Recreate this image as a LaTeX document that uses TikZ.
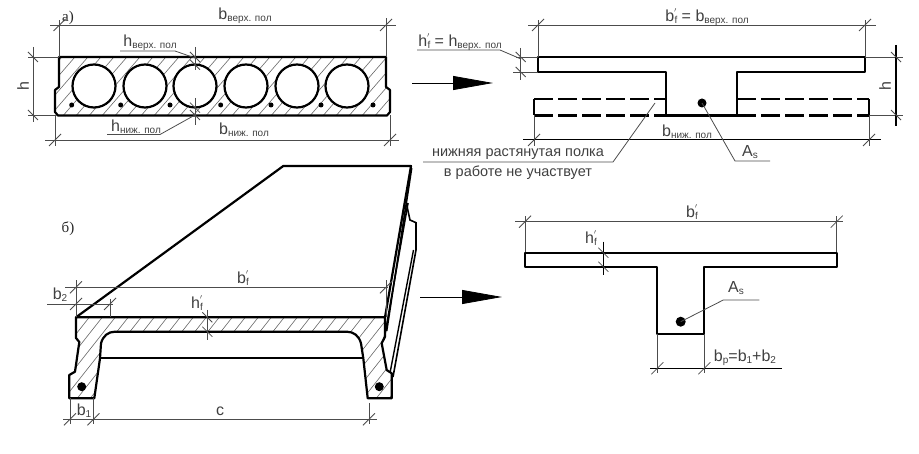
\documentclass[tikz,border=0pt]{standalone}
\usepackage{fontspec}
\setmainfont{Liberation Serif}
\setsansfont{Liberation Sans}
\usetikzlibrary{arrows.meta}
\newcommand{\lblsub}[1]{\raisebox{-2pt}{\fontsize{10}{10}\selectfont #1}}
\newcommand{\lblprime}[2]{#1\raisebox{6pt}{\fontsize{10}{10}\selectfont$'$}\hspace{-2.5pt}\lblsub{#2}}
\tikzset{
  contour/.style={line width=2.2pt,line join=round},
  dimline/.style={line width=0.8pt,black!70},
  hatchline/.style={line width=0.6pt,black!60},
  dimtxt/.style={font=\sffamily\fontsize{16}{16}\selectfont,inner sep=0pt,text=black!75},
  notetxt/.style={font=\sffamily\fontsize{14.5}{14.5}\selectfont,inner sep=0pt,text=black!75},
  panelmark/.style={font=\rmfamily\fontsize{15}{15}\selectfont,inner sep=0pt,text=black!85},
  flowarrow/.style={line width=0.8pt,-{Triangle[length=40pt,width=14pt]}}
}
\def\hollowpath{(59,57) -- (59,87) -- (55,90) -- (55,112) -- (58,115.5) -- (387,115.5) -- (390,112) -- (390,90) -- (386,87) -- (386,57) -- cycle}
\def\ribbedpath{(76,317.3) -- (76,338) -- (79.3,342) -- (75,371.7) -- (69.3,375) -- (69.3,398.3) -- (94.3,398.3) -- (100,358.3) -- (101,343.3) .. controls (103,336) and (108,331.7) .. (115,331.7) -- (346.7,331.7) .. controls (354,331.7) and (359,336) .. (361,343.3) -- (363.3,358.3) -- (367.7,398.3) -- (391.7,398.3) -- (391.7,373.3) -- (386.7,370) -- (381.7,343.3) -- (385,336.7) -- (385,317.3) -- cycle}
\begin{document}
\begin{tikzpicture}[x=1pt,y=-1pt]
\useasboundingbox (0,0) rectangle (919,454);
% hollow slab
\begin{scope}
\clip \hollowpath;
\foreach \x in {-10,3,...,420} \draw[hatchline] (\x,125) -- (\x+65,50);
\end{scope}
\draw[contour] \hollowpath;
\foreach \x in {94,145,195,246,297,347} \draw[contour,fill=white] (\x,86) circle[radius=21.5];
\foreach \x in {71.7,120.7,170,220.7,271,321,373} \fill (\x,105) circle[radius=2.5];
\draw[dimline] (59.5,57) -- (59.5,20) (386,57) -- (386,18) (50,25) -- (396,25);
\draw[dimline] (55,115) -- (55,146) (390,115) -- (390,146) (45,140) -- (399,140);
\draw[dimline] (59,57) -- (28,57) (57,115) -- (28,115) (33,47) -- (33,122);
\draw[dimline] (195,47) -- (195,70) (195,98) -- (195,125);
\draw[dimline] (120,51) -- (175,51) -- (195,58) (107,134.5) -- (160,134.5) -- (195,115);
\node[panelmark] (marka) at (68,18) {а)};
\node[dimtxt] (bupper) at (245,16) {b\lblsub{верх. пол}};
\node[dimtxt] (blower) at (244,130) {b\lblsub{ниж. пол}};
\node[dimtxt] (hupper) at (150,43) {h\lblsub{верх. пол}};
\node[dimtxt] (hlower) at (136,127) {h\lblsub{ниж. пол}};
\node[dimtxt,rotate=90] (hleft) at (23,86) {h};
% reduced section, upper right
\draw[contour] (666,115.5) -- (666,72) -- (538,72) -- (538,57) -- (865,57) -- (865,72) -- (737,72) -- (737,115.5) -- cycle;
\draw[contour,dash pattern=on 19pt off 5pt] (534,99) -- (666,99) (534,115.5) -- (666,115.5) (737,99) -- (869,99) (737,115.5) -- (869,115.5);
\draw[contour] (534,99) -- (534,115.5) (869,99) -- (869,115.5);
\fill (702,103) circle[radius=4.5];
\draw[dimline] (538,57) -- (538,20) (865,57) -- (865,20) (528,25) -- (876,25);
\draw[dimline] (865,57) -- (903,57) (869,115) -- (903,115);
\draw[line width=1.2pt] (896,45) -- (896,126);
\draw[dimline] (538,57) -- (516,57) (538,72) -- (513,72) (520.7,48) -- (520.7,80);
\draw[dimline] (417,50) -- (500,50) -- (521,59);
\draw[dimline] (534,115) -- (534,146) (869,115) -- (869,146);
\draw[line width=1pt] (523,140) -- (881,140);
\draw[dimline] (655,103) -- (613,162) -- (423,162);
\draw[dimline] (702,103) -- (735,161) -- (770,161);
\node[dimtxt] (bflange) at (707,17) {\lblprime{b}{f} = b\lblsub{верх. пол}};
\node[dimtxt] (hflange) at (460,42) {\lblprime{h}{f} = h\lblsub{верх. пол}};
\node[dimtxt] (bbottom) at (687,132) {b\lblsub{ниж. пол}};
\node[dimtxt,rotate=90] (hright) at (885,86) {h};
\node[notetxt] (noteup) at (518,154) {нижняя растянутая полка};
\node[notetxt] (notedown) at (518,173) {в работе не участвует};
\node[dimtxt] (asup) at (750,152) {A\lblsub{s}};
% flow arrows
\coordinate (arrowastart) at (412,83);
\coordinate (arrowaend) at (493,83);
\coordinate (arrowbstart) at (420,297);
\coordinate (arrowbend) at (502,297);
\draw[flowarrow] (arrowastart) -- (arrowaend);
\draw[flowarrow] (arrowbstart) -- (arrowbend);
% ribbed slab in perspective
\begin{scope}
\clip \ribbedpath;
\foreach \x in {20,33,...,440} \draw[hatchline] (\x,405) -- (\x+75,310);
\end{scope}
\draw[contour] \ribbedpath;
\draw[contour] (100,358.3) -- (363.3,358.3);
\draw[contour] (76,317.3) -- (283.3,166) -- (411,166) -- (385,317.3);
\draw[line width=1.6pt] (411.7,168) -- (386.7,331);
\draw[line width=1.6pt] (408,203) -- (384,340);
\draw[line width=1.6pt] (406.7,205) -- (410,220) -- (416,222.7) -- (416,250) -- (393,377);
\draw[line width=1.4pt] (413.5,250) -- (390,373);
\fill (81.7,386.7) circle[radius=4.5] (379.3,386.7) circle[radius=4.5];
\draw[dimline] (76,317) -- (76,280) (386,317) -- (386,280) (65,287.3) -- (388,287.3);
\draw[dimline] (47,304) -- (113,304) (110,317) -- (110,299);
\draw[dimline] (207.3,310) -- (207.3,340);
\draw[dimline] (70,398) -- (70,424) (93.5,398) -- (93.5,424) (369,403) -- (369,424) (63,419.3) -- (377,419.3);
\node[panelmark] (markb) at (68,229) {б)};
\node[dimtxt] (bwide) at (243,278) {\lblprime{b}{f}};
\node[dimtxt] (bsmall) at (60,295) {b\lblsub{2}};
\node[dimtxt] (hthin) at (197,303) {\lblprime{h}{f}};
\node[dimtxt] (bfoot) at (84,411) {b\lblsub{1}};
\node[dimtxt] (cspan) at (220,411) {c};
% design t section, lower right
\draw[contour] (657.3,266.7) -- (525,266.7) -- (525,252.7) -- (836.7,252.7) -- (836.7,266.7) -- (704.3,266.7) -- (704.3,334) -- (657.3,334) -- cycle;
\fill (680.7,321.7) circle[radius=5];
\draw[dimline] (525,252) -- (525,216) (836.7,252) -- (836.7,216) (515,221.7) -- (843,221.7);
\draw[line width=1.2pt] (603.3,241.7) -- (603.3,275);
\draw[dimline] (680.7,321.7) -- (723.3,300) -- (759.3,300);
\draw[dimline] (657.3,334) -- (657.3,373) (704.3,334) -- (704.3,373);
\draw[line width=1pt] (650,368.3) -- (781.7,368.3);
\node[dimtxt] (btop) at (692,212) {\lblprime{b}{f}};
\node[dimtxt] (hweb) at (591,238) {\lblprime{h}{f}};
\node[dimtxt] (aslow) at (736,288) {A\lblsub{s}};
\node[dimtxt] (brib) at (745,358) {b\lblsub{р}=b\lblsub{1}+b\lblsub{2}};
% ticks on horizontal dimension lines
\foreach \x/\y in {59.5/25,386/25,55/140,390/140,538/25,865/25,534/140,869/140,76/287.3,386/287.3,76/304,110/304,70/419.3,93.5/419.3,369/419.3,525/221.7,836.7/221.7,657.3/368.3,704.3/368.3}
  \draw[dimline] (\x-6,\y+6) -- (\x+6,\y-6);
% ticks on vertical dimension lines
\foreach \x/\y in {33/57,33/115,195/57,195/64.7,195/107.6,195/115,520.7/57,520.7/72,896/57,896/115,207.3/317.3,207.3/331.7,603.3/252.7,603.3/266.7}
  \draw[dimline] (\x-5,\y-5) -- (\x+5,\y+5);
\end{tikzpicture}
\end{document}
